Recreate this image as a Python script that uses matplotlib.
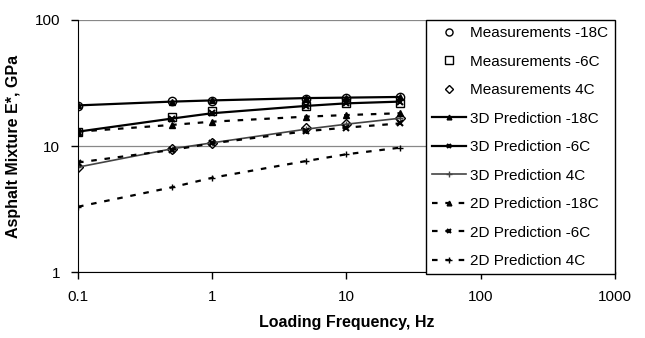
import matplotlib
matplotlib.use('Agg')
import matplotlib.pyplot as plt
from matplotlib import font_manager

# pick a narrow sans if available
names = {f.name for f in font_manager.fontManager.ttflist}
fam = 'Liberation Sans Narrow' if 'Liberation Sans Narrow' in names else 'Liberation Sans'
plt.rcParams['font.family'] = [fam, 'DejaVu Sans']

freq = [0.1, 0.5, 1, 5, 10, 25]

meas_m18 = [20.8, 22.6, 22.9, 23.7, 23.9, 24.4]
meas_m6 = [13.0, 17.1, 18.9, 20.8, 21.8, 22.0]
meas_4 = [6.8, 9.5, 10.6, 13.8, 14.9, 16.6]

pred3d_m18 = [21.0, 22.5, 23.0, 24.0, 24.2, 24.5]
pred3d_m6 = [13.0, 16.5, 18.2, 20.8, 21.8, 22.5]
pred3d_4 = [6.8, 9.5, 10.6, 13.6, 14.9, 16.6]

pred2d_m18 = [13.0, 14.7, 15.6, 17.1, 17.6, 18.2]
pred2d_m6 = [7.4, 9.3, 10.5, 13.1, 14.0, 15.1]
pred2d_4 = [3.3, 4.7, 5.6, 7.6, 8.6, 9.7]

fig = plt.figure(figsize=(6.45, 3.38), dpi=100)
ax = fig.add_axes([0.121, 0.195, 0.832, 0.746])

ms = dict(linestyle='none', markerfacecolor='white', markeredgecolor='black', markeredgewidth=1.0, markersize=6)
ax.plot(freq, meas_m18, marker='o', label='Measurements -18C', **ms)
ax.plot(freq, meas_m6, marker='s', label='Measurements -6C', **ms)
ax.plot(freq, meas_4, marker='D', label='Measurements 4C', **dict(ms, markersize=5))

ax.plot(freq, pred3d_m18, '-', color='black', lw=1.6, marker='^', ms=4, label='3D Prediction -18C')
ax.plot(freq, pred3d_m6, '-', color='black', lw=1.6, marker='x', ms=4, mew=1.5, label='3D Prediction -6C')
ax.plot(freq, pred3d_4, '-', color='#444444', lw=1.2, marker='+', ms=5, label='3D Prediction 4C')

dash = (0, (2.5, 3.5))
ax.plot(freq, pred2d_m18, linestyle=dash, color='black', lw=1.6, marker='^', ms=4, label='2D Prediction -18C')
ax.plot(freq, pred2d_m6, linestyle=dash, color='black', lw=1.6, marker='x', ms=4, mew=1.5, label='2D Prediction -6C')
ax.plot(freq, pred2d_4, linestyle=dash, color='black', lw=1.6, marker='+', ms=5, label='2D Prediction 4C')

ax.set_xscale('log')
ax.set_yscale('log')
ax.set_xlim(0.1, 1000)
ax.set_ylim(1, 100)
ax.set_xticks([0.1, 1, 10, 100, 1000])
ax.set_xticklabels(['0.1', '1', '10', '100', '1000'])
ax.set_yticks([1, 10, 100])
ax.set_yticklabels(['1', '10', '100'])
ax.minorticks_off()
ax.tick_params(labelsize=11, length=5, width=1, direction='out', pad=8)
ax.yaxis.grid(True, color='#888888', lw=0.9)
ax.set_axisbelow(True)
ax.spines['top'].set_visible(False)
ax.spines['right'].set_visible(False)

ax.set_xlabel('Loading Frequency, Hz', fontsize=11.5, fontweight='bold', labelpad=8)
ax.set_ylabel('Asphalt Mixture E*, GPa', fontsize=11.5, fontweight='bold', labelpad=10)

leg = ax.legend(loc='upper right', bbox_to_anchor=(1.0, 1.0), borderaxespad=0,
                fontsize=11, frameon=True, fancybox=False, edgecolor='black',
                framealpha=1, labelspacing=0.95, handlelength=2.2, handletextpad=0.3,
                borderpad=0.4, markerscale=0.85)
leg.get_frame().set_linewidth(1.0)

fig.savefig('out.png', dpi=100)
